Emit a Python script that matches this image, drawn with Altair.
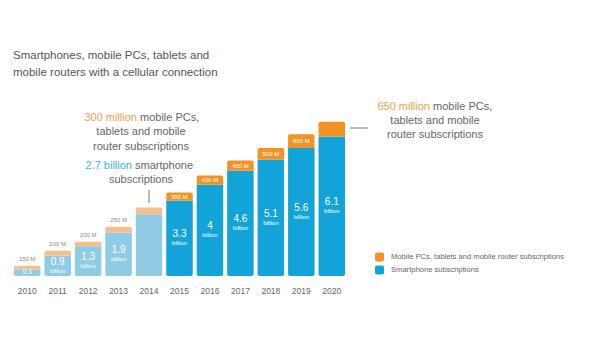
import altair as alt
import pandas as pd

years = ["2010", "2011", "2012", "2013", "2014", "2015", "2016", "2017", "2018", "2019", "2020"]
smartphone_bn = [0.3, 0.9, 1.3, 1.9, 2.7, 3.3, 4.0, 4.6, 5.1, 5.6, 6.1]
other_m = [150, 200, 200, 250, 300, 350, 400, 450, 500, 600, 650]
smart_labels = ["0.3", "0.9", "1.3", "1.9", "", "3.3", "4", "4.6", "5.1", "5.6", "6.1"]
other_labels = ["150 M", "200 M", "200 M", "250 M", "", "350 M", "400 M", "450 M", "500 M", "600 M", ""]
phase = ["hist"] * 5 + ["fc"] * 6

title_lines = ["Smartphones, mobile PCs, tablets and", "mobile routers with a cellular connection"]
legend_labels = ["Mobile PCs, tablets and mobile router subscriptions", "Smartphone subscriptions"]

ORANGE = "#F39325"
BLUE = "#12A3D8"
LORANGE = "#F6C08C"
LBLUE = "#90CBE6"
GRAY = "#666666"

OX, OY = 12, 116  # plot-area origin in page pixels

df = pd.DataFrame({
    "year": years,
    "s": smartphone_bn,
    "o": [v / 1000 for v in other_m],
    "slab": smart_labels,
    "olab": other_labels,
    "phase": phase,
})
df["top"] = df["s"] + df["o"]
df["omid"] = df["s"] + df["o"] / 2
df["smid"] = df["s"] / 2
df["zero"] = 0.0
df["skey"] = "S-" + df["phase"]
df["okey"] = "O-" + df["phase"]
df["bil"] = ["billion" if l else "" for l in smart_labels]

xs = alt.X("year:N", title=None,
           scale=alt.Scale(paddingInner=0.13, paddingOuter=0.065),
           axis=alt.Axis(labelAngle=0, domain=False, ticks=False, labelPadding=10,
                         labelColor=GRAY, labelFontSize=8.5, labelFont="Liberation Sans"))
yscale = alt.Scale(domain=[0, 7], nice=False)
color_scale = alt.Scale(domain=["S-hist", "S-fc", "O-hist", "O-fc"],
                        range=[LBLUE, BLUE, LORANGE, ORANGE])

base = alt.Chart(df)

blue_bars = base.mark_bar(cornerRadiusBottomLeft=2, cornerRadiusBottomRight=2).encode(
    x=xs,
    y=alt.Y("zero:Q", scale=yscale, axis=None, title=None),
    y2="s:Q",
    color=alt.Color("skey:N", scale=color_scale, legend=None),
)
orange_bars = base.mark_bar(cornerRadiusTopLeft=2, cornerRadiusTopRight=2).encode(
    x=xs,
    y=alt.Y("s:Q", scale=yscale),
    y2="top:Q",
    color=alt.Color("okey:N", scale=color_scale, legend=None),
)

big = base.transform_filter("datum.s >= 0.5")
small = base.transform_filter("datum.s < 0.5")

num_text = big.mark_text(color="white", fontSize=10, font="Liberation Sans", dy=-4).encode(
    x=xs, y=alt.Y("smid:Q", scale=yscale), text="slab:N")
bil_text = big.mark_text(color="white", fontSize=6, font="Liberation Sans", dy=5).encode(
    x=xs, y=alt.Y("smid:Q", scale=yscale), text="bil:N")
num_small = small.mark_text(color="white", fontSize=6.5, font="Liberation Sans", dy=-1).encode(
    x=xs, y=alt.Y("smid:Q", scale=yscale), text="slab:N")
bil_small = small.mark_text(color="white", fontSize=4, font="Liberation Sans", dy=4).encode(
    x=xs, y=alt.Y("smid:Q", scale=yscale), text="bil:N")

olab_in = base.transform_filter("datum.phase == 'fc'").mark_text(
    color="white", fontSize=6, font="Liberation Sans").encode(
    x=xs, y=alt.Y("omid:Q", scale=yscale), text="olab:N")
olab_out = base.transform_filter("datum.phase == 'hist'").mark_text(
    color="#888888", fontSize=6, font="Liberation Sans", dy=-7).encode(
    x=xs, y=alt.Y("top:Q", scale=yscale), text="olab:N")


def txt(s, x, y, color=GRAY, size=11, align="center"):
    return alt.Chart(pd.DataFrame({"t": [s]})).mark_text(
        color=color, fontSize=size, font="Liberation Sans", align=align, baseline="middle"
    ).encode(text="t:N", x=alt.value(x - OX), y=alt.value(y - OY))


def rule(x1, y1, x2, y2):
    return alt.Chart(pd.DataFrame({"a": [0]})).mark_rule(color="#777777", strokeWidth=1).encode(
        x=alt.value(x1 - OX), x2=alt.value(x2 - OX), y=alt.value(y1 - OY), y2=alt.value(y2 - OY))


def square(cx, cy, color):
    return alt.Chart(pd.DataFrame({"a": [0]})).mark_rect(color=color, cornerRadius=2).encode(
        x=alt.value(cx - 4.5 - OX), x2=alt.value(cx + 4.5 - OX),
        y=alt.value(cy - 4.5 - OY), y2=alt.value(cy + 4.5 - OY))


annots = [
    txt(title_lines[0], 13, 56, color="#555555", size=11.5, align="left"),
    txt(title_lines[1], 13, 73, color="#555555", size=11.5, align="left"),
    # 2014 annotation
    txt("300 million", 137, 118, color="#F0A04B", align="right"),
    txt("mobile PCs,", 140, 118, align="left"),
    txt("tablets and mobile", 141, 132),
    txt("router subscriptions", 141, 147),
    txt("2.7 billion", 132, 166, color="#3DB3DE", align="right"),
    txt("smartphone", 135, 166, align="left"),
    txt("subscriptions", 141, 180),
    rule(149, 190, 149, 203),
    # 2020 annotation
    txt("650 million", 430, 107, color="#F0A04B", align="right"),
    txt("mobile PCs,", 433, 107, align="left"),
    txt("tablets and mobile", 435, 121),
    txt("router subscriptions", 435, 135),
    rule(350, 128, 368, 128),
    # legend
    square(379.5, 257, ORANGE),
    square(379.5, 270, BLUE),
    txt(legend_labels[0], 391, 257, size=7.6, align="left"),
    txt(legend_labels[1], 391, 270, size=7.6, align="left"),
]

chart = alt.layer(blue_bars, orange_bars, num_text, bil_text, num_small, bil_small,
                  olab_in, olab_out, *annots).properties(
    width=335, height=160,
    autosize=alt.AutoSizeParams(type="none"),
    padding={"left": OX, "top": OY, "right": 600 - OX - 335, "bottom": 350 - OY - 160},
    background="white",
).configure_view(stroke=None)

chart.save("out.html", embed_options={"renderer": "svg", "actions": False})
